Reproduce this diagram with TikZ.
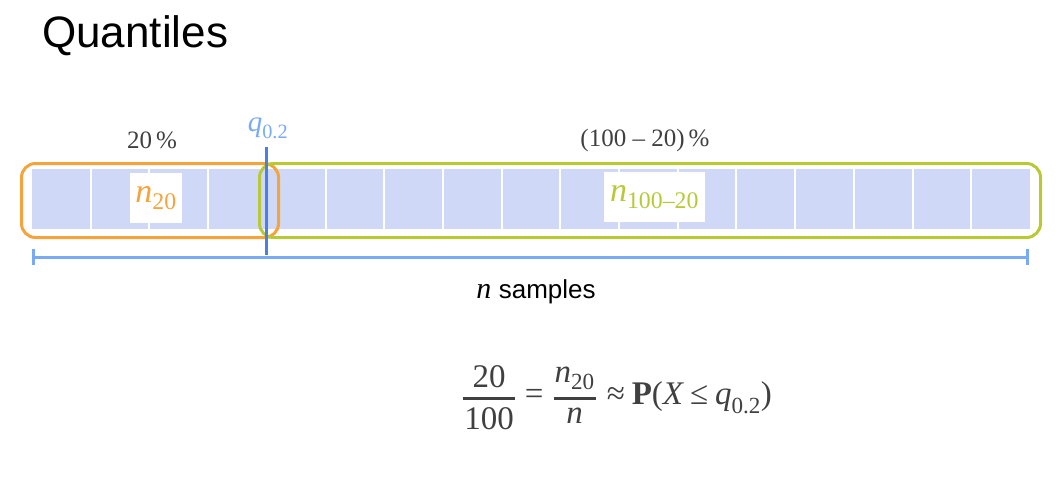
\documentclass[tikz,border=0pt]{standalone}
\usepackage{amsmath}
\usepackage{fontspec}
\setmainfont{Liberation Serif}
\setsansfont{Liberation Sans}
\usetikzlibrary{arrows.meta}
\definecolor{barfill}{HTML}{CFD9F7}
\definecolor{orng}{HTML}{F5A33B}
\definecolor{grn}{HTML}{B9C936}
\definecolor{qblue}{HTML}{4A80E4}
\definecolor{lblue}{HTML}{7AAAF5}
\definecolor{txtgray}{HTML}{404040}
\newcommand{\fs}[1]{\fontsize{#1}{#1}\selectfont}
\newcommand{\itn}{\text{\itshape n}}
\newcommand{\thfrac}[2]{\genfrac{}{}{2.6pt}{0}{\hspace{1pt}#1\hspace{1pt}}{\hspace{1pt}#2\hspace{1pt}}}
\tikzset{
  groupbox/.style={draw=#1, line width=3pt, rounded corners=14pt, inner sep=0pt, anchor=north west},
  labelbox/.style={fill=white, inner sep=0pt, minimum height=50pt},
  pct/.style={text=txtgray, font=\fs{25}},
}
\begin{document}
\begin{tikzpicture}[x=1pt,y=-1pt]
\useasboundingbox (0,0) rectangle (1059,485);
\node[anchor=west, font=\sffamily\fs{44}, inner sep=0pt] (title) at (42,36) {Quantiles};
% bar
\node[fill=barfill, minimum width=998pt, minimum height=60pt, inner sep=0pt, anchor=north west] (bar) at (32,169) {};
\foreach \i in {1,...,16}{
  \draw[white, line width=2pt] (32+\i*58.706,169) -- (32+\i*58.706,229);
}
% group boxes
\node[groupbox=orng, minimum width=257pt, minimum height=74pt] (lowbox) at (20,162) {};
\node[groupbox=grn, minimum width=781pt, minimum height=74pt] (highbox) at (258,162) {};
% labels inside
\node[labelbox, minimum width=52pt, text=orng, font=\fs{34}] (n20) at (156,198) {$\itn_{\text{20}}$};
\node[labelbox, minimum width=101pt, text=grn, font=\fs{34}] (nrest) at (654.5,197) {$\itn_{\text{100–20}}$};
% percentages
\node[pct] (p20) at (152,140) {20\,\%};
\node[pct] (prest) at (645,140) {(100 – 20)\,\%};
% quantile line
\coordinate (qtop) at (266,147);
\coordinate (qbot) at (266,255);
\draw[qblue, line width=3pt] (qtop) -- (qbot);
\node[text=lblue, font=\fs{29}, anchor=south, inner sep=0pt] (qlab) at (268,139) {$\text{\itshape q}_{\text{0.2}}$};
% bracket
\coordinate (bl) at (32,257);
\coordinate (br) at (1029,257);
\draw[lblue, line width=3pt, {Bar[width=16pt,line width=3pt]}-{Bar[width=16pt,line width=3pt]}] (bl) -- (br);
\node[font=\fs{30}] (nsamp) at (536,292) {\textit{n} \sffamily\fs{26}samples};
% formula
\node[text=txtgray, font=\fs{33}] (formula) at (617,398) {$\displaystyle\thfrac{\text{20}}{\text{100}} \mathrel{\text{\hspace{2pt}=\hspace{2pt}}} \thfrac{\itn_{\text{20}}}{\itn} \mathrel{\text{\hspace{3pt}≈}} \text{\bfseries P}\text{(}\text{\itshape X}\mathrel{\text{≤}}\text{\itshape q}_{\text{0.2}}\text{)}$};
\end{tikzpicture}
\end{document}
